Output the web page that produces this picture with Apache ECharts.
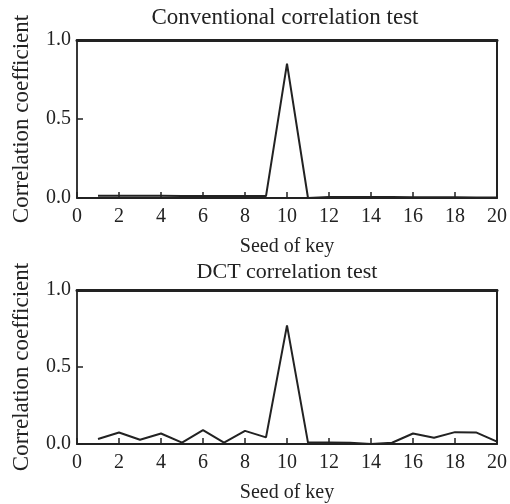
<!DOCTYPE html>
<html><head><meta charset="utf-8">
<script src="https://cdn.jsdelivr.net/npm/echarts@6/dist/echarts.min.js"></script>
<style>html,body{margin:0;padding:0;background:#fff}#c{width:510px;height:504px}</style>
</head><body><div id="c"></div>
<script>
const seeds = [1,2,3,4,5,6,7,8,9,10,11,12,13,14,15,16,17,18,19,20];
const conventional = [0.015,0.015,0.014,0.014,0.013,0.013,0.012,0.012,0.012,0.85,0.0,0.007,0.007,0.006,0.006,0.005,0.005,0.004,0.003,0.003];
const dct = [0.032,0.075,0.028,0.068,0.009,0.09,0.009,0.085,0.043,0.77,0.009,0.01,0.008,0.0,0.008,0.068,0.04,0.077,0.075,0.015];
const xTicks = [0,2,4,6,8,10,12,14,16,18,20];
const yTicks = [0,0.5,1.0];
const titles = ['Conventional correlation test','DCT correlation test'];
const xName = 'Seed of key';
const yName = 'Correlation coefficient';

const font = 'Liberation Serif';
const ink = '#222';
const grids = [{left:77,right:10,top:40,height:158},{left:77,right:10,top:290,height:156}];
const xAxes=[], yAxes=[], series=[];
[conventional,dct].forEach((vals,i)=>{
  xAxes.push({gridIndex:i,type:'value',min:0,max:20,interval:2,
    name:xName,nameLocation:'middle',nameGap:39,
    nameTextStyle:{fontFamily:font,fontSize:20,color:ink},
    axisLine:{onZero:false,lineStyle:{color:ink,width:1.8}},
    axisTick:{inside:true,length:6,lineStyle:{color:ink,width:1.5}},
    axisLabel:{fontFamily:font,fontSize:20,color:ink,margin:9,formatter:v=>xTicks.includes(v)?String(v):''},
    splitLine:{show:false}});
  xAxes.push({gridIndex:i,type:'value',position:'top',min:0,max:20,
    axisLine:{show:true,onZero:false,lineStyle:{color:ink,width:3}},axisTick:{show:false},axisLabel:{show:false},splitLine:{show:false}});
  yAxes.push({gridIndex:i,type:'value',min:0,max:1,interval:0.5,
    name:yName,nameLocation:'middle',nameGap:44,
    nameTextStyle:{fontFamily:font,fontSize:23,color:ink},
    axisLine:{show:true,onZero:false,lineStyle:{color:ink,width:1.8}},
    axisTick:{show:true,inside:true,length:6,lineStyle:{color:ink,width:1.5}},
    axisLabel:{fontFamily:font,fontSize:20,color:ink,margin:6,formatter:v=>yTicks.includes(v)?v.toFixed(1):''},
    splitLine:{show:false}});
  yAxes.push({gridIndex:i,type:'value',position:'right',min:0,max:1,
    axisLine:{show:true,onZero:false,lineStyle:{color:ink,width:2}},axisTick:{show:false},axisLabel:{show:false},splitLine:{show:false}});
  series.push({type:'line',xAxisIndex:i*2,yAxisIndex:i*2,data:seeds.map((s,k)=>[s,vals[k]]),
    showSymbol:false,lineStyle:{color:ink,width:2},animation:false});
});
const chart = echarts.init(document.getElementById('c'));
chart.setOption({
  backgroundColor:'#fff',animation:false,
  title:[
    {text:titles[0],left:280,top:1,textAlign:'center',textStyle:{fontFamily:font,fontWeight:'normal',fontSize:23,color:ink}},
    {text:titles[1],left:282,top:256,textAlign:'center',textStyle:{fontFamily:font,fontWeight:'normal',fontSize:22,color:ink}}
  ],
  grid:grids,xAxis:xAxes,yAxis:yAxes,series:series
});
</script></body></html>
